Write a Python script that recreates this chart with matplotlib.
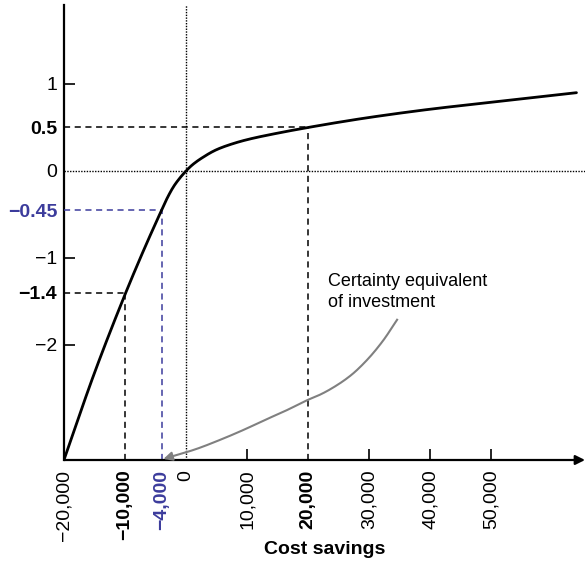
import numpy as np
import matplotlib.pyplot as plt

plt.rcParams['font.family'] = ['Liberation Sans', 'DejaVu Sans']

# utility curve (cost savings, utility)
savings = [-20000, -15000, -10000, -7000, -4000, -3000, -2000, -1000, 0, 1000,
           2500, 5000, 7500, 10000, 15000, 20000, 25000, 30000, 40000, 50000, 64000]
utility = [-3.32, -2.32, -1.42, -0.92, -0.45, -0.30, -0.175, -0.08, 0.0, 0.068,
           0.145, 0.245, 0.31, 0.36, 0.435, 0.50, 0.56, 0.615, 0.71, 0.79, 0.90]

# gray pointer curve to the certainty equivalent
ptr_x = [-3700, 1500, 5600, 9300, 13000, 16500, 20000, 22000, 24100, 27000, 29700, 32300, 34600]
ptr_y = [-3.31, -3.20, -3.09, -2.98, -2.86, -2.75, -2.63, -2.57, -2.49, -2.35, -2.17, -1.95, -1.71]

xticks = [-20000, -10000, -4000, 0, 10000, 20000, 30000, 40000, 50000]
xlabels = ['\u221220,000', '\u221210,000', '\u22124,000', '0', '10,000', '20,000',
           '30,000', '40,000', '50,000']
yticks = [1, 0.5, 0, -0.45, -1, -1.4, -2]
ylabels = ['1', '0.5', '0', '\u22120.45', '\u22121', '\u22121.4', '\u22122']

blue = '#3c3c9c'
xmin, xmax = -20000, 65400
ymin, ymax = -3.322, 1.908


def smooth(x, y, n=400):
    # monotone cubic (Fritsch-Carlson) through the read points, for drawing only
    x = np.asarray(x, float)
    y = np.asarray(y, float)
    h = np.diff(x)
    d = np.diff(y) / h
    m = np.zeros_like(y)
    m[0], m[-1] = d[0], d[-1]
    for k in range(1, len(x) - 1):
        if d[k - 1] * d[k] > 0:
            w1 = 2 * h[k] + h[k - 1]
            w2 = h[k] + 2 * h[k - 1]
            m[k] = (w1 + w2) / (w1 / d[k - 1] + w2 / d[k])
    xs = np.linspace(x[0], x[-1], n)
    i = np.clip(np.searchsorted(x, xs) - 1, 0, len(x) - 2)
    t = (xs - x[i]) / h[i]
    h00 = 2 * t**3 - 3 * t**2 + 1
    h10 = t**3 - 2 * t**2 + t
    h01 = -2 * t**3 + 3 * t**2
    h11 = t**3 - t**2
    ys = h00 * y[i] + h10 * h[i] * m[i] + h01 * y[i + 1] + h11 * h[i] * m[i + 1]
    return xs, ys


fig = plt.figure(figsize=(5.87, 5.62), dpi=100)
ax = fig.add_axes([64 / 587, 102 / 562, 521 / 587, 455 / 562])
ax.set_xlim(xmin, xmax)
ax.set_ylim(ymin, ymax)
for s in ax.spines.values():
    s.set_visible(False)

# axes: x with arrow, y plain
ax.annotate('', xy=(1.0, 0), xytext=(0, 0), xycoords='axes fraction',
            arrowprops=dict(arrowstyle='-|>', color='black', lw=1.6,
                            mutation_scale=14, shrinkA=0, shrinkB=0))
ax.plot([0, 0], [0, 1], transform=ax.transAxes, color='black', lw=1.6, clip_on=False)

# dotted reference lines
ax.axhline(0, color='black', lw=1.0, ls=(0, (1, 1)))
ax.axvline(0, color='black', lw=1.0, ls=(0, (1, 1)))

# dashed guide lines
dash = (0, (4, 3))
ax.plot([xmin, 20000], [0.5, 0.5], color='black', lw=1.1, ls=dash)
ax.plot([20000, 20000], [ymin, 0.5], color='black', lw=1.1, ls=dash)
ax.plot([xmin, -10000], [-1.4, -1.4], color='black', lw=1.1, ls=dash)
ax.plot([-10000, -10000], [ymin, -1.4], color='black', lw=1.1, ls=dash)
ax.plot([xmin, -4000], [-0.45, -0.45], color=blue, lw=1.1, ls=dash)
ax.plot([-4000, -4000], [ymin, -0.45], color=blue, lw=1.1, ls=dash)

# utility curve
sx, sy = smooth(savings, utility)
ax.plot(sx, sy, color='black', lw=2.0, solid_capstyle='round')

# pointer
px, py = smooth(ptr_x, ptr_y, 200)
ax.plot(px[3:], py[3:], color='#808080', lw=1.5)
ax.annotate('', xy=(px[0], py[0]), xytext=(px[4], py[4]),
            arrowprops=dict(arrowstyle='-|>', color='#808080', lw=1.5,
                            mutation_scale=13, shrinkA=0, shrinkB=0))
ax.text(23300, -1.17, 'Certainty equivalent\nof investment', fontsize=13,
        va='top', ha='left', linespacing=1.35)

# ticks
ax.set_xticks(xticks)
ax.set_xticklabels(xlabels, rotation=90, fontsize=14)
ax.set_yticks(yticks)
ax.set_yticklabels(ylabels, fontsize=14)
ax.tick_params(axis='x', direction='in', length=8, width=1.2, pad=7)
ax.tick_params(axis='y', direction='in', length=8, width=1.2, pad=5)

for i, t in enumerate(ax.xaxis.get_major_ticks()):
    if xticks[i] in (-20000, -10000, -4000, 0, 20000):
        t.tick1line.set_visible(False)
for i, t in enumerate(ax.yaxis.get_major_ticks()):
    if yticks[i] in (0.5, 0, -0.45, -1.4):
        t.tick1line.set_visible(False)

for lab, v in zip(ax.get_xticklabels(), xticks):
    if v in (-10000, 20000):
        lab.set_fontweight('bold')
    if v == -4000:
        lab.set_fontweight('bold')
        lab.set_color(blue)
for lab, v in zip(ax.get_yticklabels(), yticks):
    if v in (0.5, -1.4):
        lab.set_fontweight('bold')
    if v == -0.45:
        lab.set_fontweight('bold')
        lab.set_color(blue)

fig.text(325 / 587, 1 - 549 / 562, 'Cost savings', fontsize=14, fontweight='bold',
         ha='center', va='center')

fig.savefig('out.png', dpi=100)
